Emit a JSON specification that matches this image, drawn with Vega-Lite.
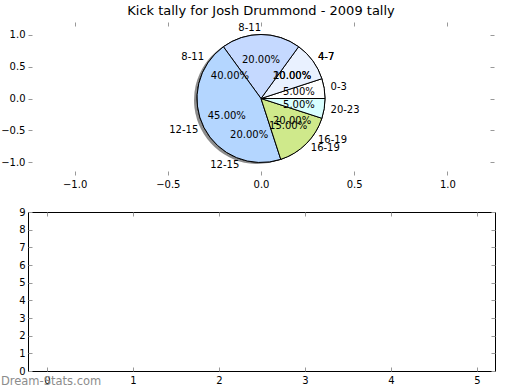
{
  "$schema": "https://vega.github.io/schema/vega-lite/v6.json",
  "background": "white",
  "padding": {"left": 0, "top": 4, "right": 5, "bottom": 0},
  "config": {
    "font": "DejaVu Sans",
    "view": {"stroke": null},
    "axis": {"labelFont": "DejaVu Sans", "labelFontSize": 10, "labelColor": "#000", "tickColor": "#999", "tickSize": -4, "tickWidth": 1, "domain": false, "grid": false, "title": null, "labelPadding": 8.5},
    "axisLeft": {"labelPadding": 7},
    "title": {"font": "DejaVu Sans", "fontSize": 13, "fontWeight": "normal", "color": "#000"},
    "text": {"font": "DejaVu Sans", "fontSize": 10, "color": "#000"}
  },
  "datasets": {
    "pieA": [
      {"range": "0-3", "start": 0, "share": 0.05},
      {"range": "4-7", "start": 4, "share": 0.10},
      {"range": "8-11", "start": 8, "share": 0.20},
      {"range": "12-15", "start": 12, "share": 0.45},
      {"range": "16-19", "start": 16, "share": 0.15},
      {"range": "20-23", "start": 20, "share": 0.05}
    ],
    "pieB": [
      {"range": "4-7", "start": 4, "share": 0.20},
      {"range": "8-11", "start": 8, "share": 0.40},
      {"range": "12-15", "start": 12, "share": 0.20},
      {"range": "16-19", "start": 16, "share": 0.20}
    ],
    "credit": [{"label": "Dream-Stats.com"}]
  },
  "spacing": 16,
  "vconcat": [
    {
      "width": 466,
      "height": 153,
      "title": {"text": "Kick tally for Josh Drummond - 2009 tally", "offset": 4},
      "resolve": {"axis": {"x": "independent", "y": "independent"}},
      "layer": [
        {
          "data": {"name": "credit"},
          "mark": {"type": "point", "opacity": 0},
          "encoding": {
            "x": {"datum": 0, "type": "quantitative", "scale": {"domain": [-1.25, 1.25], "nice": false, "zero": false}, "axis": {"orient": "bottom", "values": [-1, -0.5, 0, 0.5, 1], "format": ".1f"}},
            "y": {"datum": 0, "type": "quantitative", "scale": {"domain": [-1.2, 1.2], "nice": false, "zero": false}, "axis": {"orient": "left", "values": [-1, -0.5, 0, 0.5, 1], "format": ".1f"}}
          }
        },
        {
          "data": {"name": "credit"},
          "mark": {"type": "point", "opacity": 0},
          "encoding": {
            "x": {"datum": 0, "type": "quantitative", "axis": {"orient": "top", "values": [-1, -0.5, 0, 0.5, 1], "labels": false, "labelPadding": 0}},
            "y": {"datum": 0, "type": "quantitative", "axis": {"orient": "right", "values": [-1, -0.5, 0, 0.5, 1], "labels": false, "labelPadding": 0}}
          }
        },
        {
          "data": {"name": "pieA"},
          "mark": {"type": "arc", "outerRadius": 64, "fill": "#000", "opacity": 0.45, "xOffset": -3, "yOffset": 1.5},
          "encoding": {
            "x": {"datum": 0, "type": "quantitative", "axis": null},
            "y": {"datum": 0, "type": "quantitative", "axis": null},
            "theta": {"field": "share", "type": "quantitative", "stack": true, "scale": {"domain": [0, 1], "range": [1.5707963267948966, -4.71238898038469]}},
            "order": {"field": "start", "type": "quantitative"}
          }
        },
        {
          "data": {"name": "pieB"},
          "mark": {"type": "arc", "outerRadius": 64, "stroke": "#000", "strokeWidth": 1},
          "encoding": {
            "x": {"datum": 0, "type": "quantitative", "axis": null},
            "y": {"datum": 0, "type": "quantitative", "axis": null},
            "theta": {"field": "share", "type": "quantitative", "stack": true},
            "order": {"field": "start", "type": "quantitative"},
            "color": {"field": "range", "type": "nominal", "scale": {"domain": ["0-3", "4-7", "8-11", "12-15", "16-19", "20-23"], "range": ["#ffffff", "#e9f1ff", "#c5d9ff", "#b4d6ff", "#cfe98b", "#d9ffff"]}, "legend": null}
          }
        },
        {
          "data": {"name": "pieA"},
          "mark": {"type": "arc", "outerRadius": 64, "stroke": "#000", "strokeWidth": 1},
          "encoding": {
            "x": {"datum": 0, "type": "quantitative", "axis": null},
            "y": {"datum": 0, "type": "quantitative", "axis": null},
            "theta": {"field": "share", "type": "quantitative", "stack": true},
            "order": {"field": "start", "type": "quantitative"},
            "color": {"field": "range", "type": "nominal", "legend": null}
          }
        },
        {
          "data": {"name": "pieB"},
          "mark": {"type": "text", "radius": 38.4},
          "encoding": {
            "x": {"datum": 0, "type": "quantitative", "axis": null},
            "y": {"datum": 0, "type": "quantitative", "axis": null},
            "theta": {"field": "share", "type": "quantitative", "stack": true},
            "order": {"field": "start", "type": "quantitative"},
            "text": {"field": "share", "type": "quantitative", "format": ".2%"}
          }
        },
        {
          "data": {"name": "pieA"},
          "mark": {"type": "text", "radius": 38.4},
          "encoding": {
            "x": {"datum": 0, "type": "quantitative", "axis": null},
            "y": {"datum": 0, "type": "quantitative", "axis": null},
            "theta": {"field": "share", "type": "quantitative", "stack": true},
            "order": {"field": "start", "type": "quantitative"},
            "text": {"field": "share", "type": "quantitative", "format": ".2%"}
          }
        },
        {
          "data": {"name": "pieB"},
          "mark": {"type": "text", "radius": 70.4, "align": "right", "baseline": "middle"},
          "encoding": {
            "x": {"datum": 0, "type": "quantitative", "axis": null},
            "y": {"datum": 0, "type": "quantitative", "axis": null},
            "theta": {"field": "share", "type": "quantitative", "stack": true},
            "order": {"field": "start", "type": "quantitative"},
            "text": {"condition": {"test": {"field": "range", "oneOf": ["8-11", "12-15"]}, "field": "range", "type": "nominal"}, "value": ""}
          }
        },
        {
          "data": {"name": "pieB"},
          "mark": {"type": "text", "radius": 70.4, "align": "left", "baseline": "middle"},
          "encoding": {
            "x": {"datum": 0, "type": "quantitative", "axis": null},
            "y": {"datum": 0, "type": "quantitative", "axis": null},
            "theta": {"field": "share", "type": "quantitative", "stack": true},
            "order": {"field": "start", "type": "quantitative"},
            "text": {"condition": {"test": {"field": "range", "oneOf": ["8-11", "12-15"]}, "value": ""}, "field": "range", "type": "nominal"}
          }
        },
        {
          "data": {"name": "pieA"},
          "mark": {"type": "text", "radius": 70.4, "align": "right", "baseline": "middle"},
          "encoding": {
            "x": {"datum": 0, "type": "quantitative", "axis": null},
            "y": {"datum": 0, "type": "quantitative", "axis": null},
            "theta": {"field": "share", "type": "quantitative", "stack": true},
            "order": {"field": "start", "type": "quantitative"},
            "text": {"condition": {"test": {"field": "range", "oneOf": ["8-11", "12-15"]}, "field": "range", "type": "nominal"}, "value": ""}
          }
        },
        {
          "data": {"name": "pieA"},
          "mark": {"type": "text", "radius": 70.4, "align": "left", "baseline": "middle"},
          "encoding": {
            "x": {"datum": 0, "type": "quantitative", "axis": null},
            "y": {"datum": 0, "type": "quantitative", "axis": null},
            "theta": {"field": "share", "type": "quantitative", "stack": true},
            "order": {"field": "start", "type": "quantitative"},
            "text": {"condition": {"test": {"field": "range", "oneOf": ["8-11", "12-15"]}, "value": ""}, "field": "range", "type": "nominal"}
          }
        }
      ]
    },
    {
      "width": 467,
      "height": 159,
      "view": {"stroke": "#000", "strokeWidth": 1},
      "resolve": {"axis": {"x": "independent", "y": "independent"}},
      "layer": [
        {
          "data": {"name": "credit"},
          "mark": {"type": "point", "opacity": 0},
          "encoding": {
            "x": {"datum": 0, "type": "quantitative", "axis": {"orient": "top", "values": [0, 1, 2, 3, 4, 5], "labels": false, "labelPadding": 0}},
            "y": {"datum": 0, "type": "quantitative", "axis": {"orient": "right", "values": [0, 1, 2, 3, 4, 5, 6, 7, 8, 9], "labels": false, "labelPadding": 0}}
          }
        },
        {
          "data": {"name": "credit"},
          "mark": {"type": "text", "align": "left", "baseline": "middle", "color": "#8c8c8c", "fontSize": 11.5},
          "encoding": {
            "x": {"datum": -0.535, "type": "quantitative", "scale": {"domain": [-0.22, 5.21], "nice": false, "zero": false}, "axis": {"orient": "bottom", "values": [0, 1, 2, 3, 4, 5], "format": "d"}},
            "y": {"datum": -0.6, "type": "quantitative", "scale": {"domain": [0, 9], "nice": false, "zero": false}, "axis": {"orient": "left", "values": [0, 1, 2, 3, 4, 5, 6, 7, 8, 9], "format": "d"}},
            "text": {"field": "label", "type": "nominal"}
          }
        }
      ]
    }
  ]
}
